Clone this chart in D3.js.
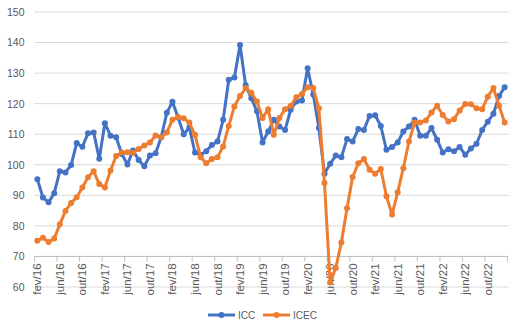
<!DOCTYPE html>
<html>
<head>
<meta charset="utf-8">
<script src="https://cdn.jsdelivr.net/npm/d3@7"></script>
<style>
  html, body { margin: 0; padding: 0; background: #fff; }
  svg { display: block; font-family: "Liberation Sans", Arial, sans-serif; }
</style>
</head>
<body>
<svg id="chart" width="520" height="333"></svg>
<script>
// Monthly series, fev/16 to jan/23
const monthNames = ["jan", "fev", "mar", "abr", "mai", "jun", "jul", "ago", "set", "out", "nov", "dez"];
const categories = [];
for (let i = 0; i < 84; i++) {
  const m = (1 + i) % 12;
  const yr = 16 + Math.floor((1 + i) / 12);
  categories.push(monthNames[m] + "/" + yr);
}

const icc = [
  95.3, 89.3, 87.7, 90.7, 97.9, 97.5, 99.9, 107.1, 105.9, 110.3, 110.6, 102.0,
  113.6, 109.5, 109.0, 103.5, 100.1, 104.7, 101.6, 99.5, 103.0, 103.8, 109.0, 117.0,
  120.6, 115.5, 110.0, 112.2, 104.0, 103.3, 104.4, 106.5, 107.6, 114.7, 127.8, 128.6,
  139.2, 126.0, 121.8, 117.5, 107.3, 110.9, 114.7, 112.5, 111.4, 118.0, 120.7, 121.0,
  131.6, 123.0, 112.0, 97.1, 100.3, 103.0, 102.5, 108.4, 107.6, 111.7, 111.4, 116.0,
  116.2, 112.7, 104.9, 105.8, 107.3, 110.9, 112.5, 114.7, 109.5, 109.5, 112.0, 108.2,
  104.0, 105.1, 104.4, 105.8, 103.3, 105.3, 106.9, 111.4, 114.1, 116.7, 122.5, 125.4
];

const icec = [
  75.1, 76.1, 74.7, 75.9, 80.5, 84.9, 87.5, 89.4, 92.6, 95.9, 97.9, 93.7,
  92.6, 98.1, 102.9, 104.0, 104.1, 103.9, 105.2, 106.3, 107.3, 109.6, 109.0, 110.6,
  114.7, 115.6, 115.2, 113.8, 109.8, 102.5, 100.5, 101.9, 102.5, 106.0, 112.7, 119.1,
  122.5, 125.1, 123.6, 120.7, 115.3, 118.2, 109.8, 115.3, 118.2, 119.3, 122.1, 123.2,
  125.4, 125.1, 118.5, 94.0, 61.5, 66.2, 74.6, 85.8, 96.0, 100.5, 101.9, 98.4,
  97.1, 98.6, 89.7, 83.7, 91.0, 98.9, 107.6, 113.8, 113.8, 114.5, 117.1, 119.3,
  116.3, 114.2, 114.9, 117.8, 119.9, 119.8, 118.5, 118.2, 122.3, 125.1, 119.3, 113.8
];

const yTicks = [60, 70, 80, 90, 100, 110, 120, 130, 140, 150];
const labelEvery = 4;

const series = [
  { name: "ICC", values: icc, color: "#4472C4" },
  { name: "ICEC", values: icec, color: "#ED7D31" }
];

const svg = d3.select("#chart");
const plotLeft = 34.5, plotRight = 507.5, plotTop = 12, plotBottom = 287;

const x = d3.scaleBand().domain(categories).range([plotLeft, plotRight]).padding(0);
const cx = d => x(d) + x.bandwidth() / 2;
const y = d3.scaleLinear().domain([60, 150]).range([plotBottom, plotTop]);

// Horizontal gridlines
svg.append("g")
  .selectAll("line")
  .data(yTicks)
  .join("line")
  .attr("x1", plotLeft).attr("x2", plotRight + 1)
  .attr("y1", d => y(d)).attr("y2", d => y(d))
  .attr("stroke", "#d9d9d9").attr("stroke-width", 1);

// Value axis labels
const yAxis = d3.axisLeft(y).tickValues(yTicks).tickSize(0).tickPadding(0);
svg.append("g")
  .attr("transform", `translate(${plotLeft - 10},0)`)
  .call(yAxis)
  .call(g => g.select(".domain").remove())
  .selectAll("text")
  .attr("fill", "#595959")
  .style("font-size", "10.5px");

// Category axis crossing at 70
const axisY = y(70);
const tickCats = categories.filter((d, i) => i % labelEvery === 0);
const axisG = svg.append("g");
axisG.append("line")
  .attr("x1", plotLeft).attr("x2", plotRight)
  .attr("y1", axisY).attr("y2", axisY)
  .attr("stroke", "#bfbfbf").attr("stroke-width", 1);
axisG.selectAll("line.tick")
  .data(tickCats.concat([null]))
  .join("line")
  .attr("class", "tick")
  .attr("x1", d => d === null ? plotRight : x(d))
  .attr("x2", d => d === null ? plotRight : x(d))
  .attr("y1", axisY).attr("y2", axisY + 5)
  .attr("stroke", "#bfbfbf").attr("stroke-width", 1);
axisG.selectAll("text")
  .data(tickCats)
  .join("text")
  .attr("transform", d => `translate(${cx(d) + 4},${axisY + 7}) rotate(-90)`)
  .attr("text-anchor", "end")
  .attr("fill", "#595959")
  .style("font-size", "11.5px")
  .text(d => d);

// Lines and markers
const line = d3.line()
  .x((d, i) => cx(categories[i]))
  .y(d => y(d));

series.forEach(s => {
  const g = svg.append("g");
  g.append("path")
    .datum(s.values)
    .attr("d", line)
    .attr("fill", "none")
    .attr("stroke", s.color)
    .attr("stroke-width", 3)
    .attr("stroke-linejoin", "round");
  g.selectAll("circle")
    .data(s.values)
    .join("circle")
    .attr("cx", (d, i) => cx(categories[i]))
    .attr("cy", d => y(d))
    .attr("r", 3)
    .attr("fill", s.color);
});

// Legend
const legend = svg.append("g").attr("transform", "translate(208,315)");
const legendItems = legend.selectAll("g")
  .data(series)
  .join("g")
  .attr("transform", (d, i) => `translate(${i * 55},0)`);
legendItems.append("line")
  .attr("x1", 0).attr("x2", 27).attr("y1", 0).attr("y2", 0)
  .attr("stroke", d => d.color).attr("stroke-width", 3);
legendItems.append("circle")
  .attr("cx", 13.5).attr("cy", 0).attr("r", 3)
  .attr("fill", d => d.color);
legendItems.append("text")
  .attr("x", 30).attr("y", 3.5)
  .attr("fill", "#595959")
  .style("font-size", "10px")
  .text(d => d.name);
</script>
</body>
</html>
